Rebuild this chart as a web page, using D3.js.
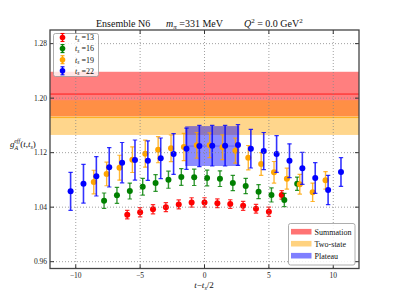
<!DOCTYPE html>
<html><head><meta charset="utf-8">
<script src="https://cdn.jsdelivr.net/npm/d3@7"></script>
<style>
html,body{margin:0;padding:0;background:#fff;}
svg text{font-family:"Liberation Serif","DejaVu Serif",serif;}
</style></head>
<body><svg id="c" width="399" height="299"></svg>
<script>
// ---- data ----
const x13 = [-6,-5,-4,-3,-2,-1,0,1,2,3,4,5,6];
const y13 = [1.029,1.0325,1.037,1.040,1.044,1.047,1.047,1.0457,1.0446,1.042,1.0377,1.0333,1.058];
const e13 = [0.0063,0.0068,0.0068,0.0066,0.0066,0.0068,0.0068,0.0064,0.0063,0.0066,0.0064,0.0068,0.0063];

const x16 = [-7.8,-6.8,-5.8,-4.8,-3.8,-2.8,-1.8,-0.8,0.2,1.2,2.2,3.2,4.2,5.2,6.2,7.2];
const y16 = [1.0495,1.0574,1.0637,1.070,1.0755,1.0803,1.0843,1.0838,1.0828,1.0818,1.0755,1.0711,1.0627,1.0579,1.0505,1.0744];
const e16 = [0.0113,0.0117,0.0117,0.0122,0.0122,0.0125,0.0122,0.012,0.0115,0.0115,0.0113,0.0113,0.0103,0.0103,0.0098,0.0098];

const x19 = [-8.6,-7.6,-6.6,-5.6,-4.6,-3.6,-2.6,-1.6,-0.6,0.4,1.4,2.4,3.4,4.4,5.4,6.4,7.4,8.4,9.4];
const y19 = [1.0769,1.0887,1.0979,1.1097,1.1185,1.1243,1.1264,1.1283,1.1308,1.1308,1.1279,1.1229,1.1126,1.1033,1.0912,1.0818,1.0736,1.0618,1.0794];
const e19 = [0.0173,0.0173,0.0183,0.0188,0.0198,0.0191,0.0195,0.0201,0.0188,0.0181,0.0181,0.0183,0.0179,0.0166,0.0158,0.0154,0.0144,0.0135,0.0128];

const x22 = [-10.4,-9.4,-8.4,-7.4,-6.4,-5.4,-4.4,-3.4,-2.4,-1.4,-0.4,0.6,1.6,2.6,3.6,4.6,5.6,6.6,7.6,8.6,9.6,10.6];
const y22 = [1.0633,1.0744,1.0853,1.0985,1.1053,1.1092,1.1082,1.1117,1.118,1.1258,1.1298,1.1302,1.1302,1.1312,1.1258,1.1224,1.118,1.1082,1.097,1.0828,1.0652,1.0916];
const e22 = [0.0279,0.0284,0.0289,0.0289,0.0296,0.0294,0.029,0.0298,0.030,0.0303,0.0303,0.0298,0.0298,0.0298,0.0283,0.0272,0.0269,0.0247,0.0235,0.0225,0.0216,0.021];

const seriesNames = ["13","16","19","22"];
const seriesColors = ["#ff0000","#008000","#ffa500","#0000ff"];

// bands: [centre, error]
const summation = [1.206, 0.0327];
const twoState = [1.1715, 0.0255];
const plateau = [1.1297, 0.0293];
const plateauRange = [-1.5, 2.7];
const bandNames = ["Summation","Two-state","Plateau"];
const bandColors = ["#ff0000","#ffa500","#0000ff"];
const bandAlpha = [0.5, 0.45, 0.45];

const xTicks = [-10,-5,0,5,10];
const yTicks = [0.96,1.04,1.12,1.20,1.28];
const xDomain = [-12,12];
const yDomain = [0.95,1.30];

// ---- drawing ----
const svg = d3.select("#c");
const L=50, R=359, T=30, B=268.5;
const x = d3.scaleLinear().domain(xDomain).range([L,R]);
const y = d3.scaleLinear().domain(yDomain).range([B,T]);

svg.append("defs").append("clipPath").attr("id","pc")
  .append("rect").attr("x",L).attr("y",T).attr("width",R-L).attr("height",B-T);
const plot = svg.append("g").attr("clip-path","url(#pc)");

function band(c, e, x0, x1, col, a, lineOp){
  plot.append("rect").attr("x",x(x0)).attr("width",x(x1)-x(x0))
    .attr("y",y(c+e)).attr("height",y(c-e)-y(c+e))
    .attr("fill",col).attr("fill-opacity",a);
  plot.append("line").attr("x1",x(x0)).attr("x2",x(x1)).attr("y1",y(c)).attr("y2",y(c))
    .attr("stroke",col).attr("stroke-width",1).attr("stroke-opacity",lineOp);
}
band(summation[0], summation[1], xDomain[0], xDomain[1], bandColors[0], bandAlpha[0], 0.8);
band(twoState[0], twoState[1], xDomain[0], xDomain[1], bandColors[1], bandAlpha[1], 0.8);
band(plateau[0], plateau[1], plateauRange[0], plateauRange[1], bandColors[2], bandAlpha[2], 0.3);

// grid
const grid = svg.append("g");
xTicks.forEach(t=>grid.append("line").attr("x1",x(t)).attr("x2",x(t)).attr("y1",T).attr("y2",B)
  .attr("stroke","#888").attr("stroke-width",0.8).attr("stroke-dasharray","1,2"));
yTicks.forEach(t=>grid.append("line").attr("x1",L).attr("x2",R).attr("y1",y(t)).attr("y2",y(t))
  .attr("stroke","#888").attr("stroke-width",0.8).attr("stroke-dasharray","1,2"));

// data
const allX=[x13,x16,x19,x22], allY=[y13,y16,y19,y22], allE=[e13,e16,e19,e22];
allX.forEach((xs,i)=>{
  const g = plot.append("g");
  const col = seriesColors[i];
  const sw = i===3 ? 1.6 : 1.4;
  xs.forEach((xv,j)=>{
    const yv=allY[i][j], ev=allE[i][j];
    const px=x(xv);
    g.append("line").attr("x1",px).attr("x2",px).attr("y1",y(yv+ev)).attr("y2",y(yv-ev))
      .attr("stroke",col).attr("stroke-width",sw).attr("stroke-opacity",0.8);
    [yv+ev,yv-ev].forEach(v=>g.append("line").attr("x1",px-2.2).attr("x2",px+2.2)
      .attr("y1",y(v)).attr("y2",y(v)).attr("stroke",col).attr("stroke-width",1.2).attr("stroke-opacity",0.8));
    g.append("circle").attr("cx",px).attr("cy",y(yv)).attr("r",3).attr("fill",col);
  });
});

// axes ticks (inward) & labels
const ax = svg.append("g");
xTicks.forEach(t=>{
  ax.append("line").attr("x1",x(t)).attr("x2",x(t)).attr("y1",B).attr("y2",B-4).attr("stroke","#333");
  ax.append("line").attr("x1",x(t)).attr("x2",x(t)).attr("y1",T).attr("y2",T+4).attr("stroke","#333");
  ax.append("text").attr("x",x(t)).attr("y",B+9).attr("text-anchor","middle")
    .attr("font-size",7.5).attr("fill","#222").text(t<0?"\u2212"+Math.abs(t):t);
});
yTicks.forEach(t=>{
  ax.append("line").attr("x1",L).attr("x2",L+4).attr("y1",y(t)).attr("y2",y(t)).attr("stroke","#333");
  ax.append("line").attr("x1",R).attr("x2",R-4).attr("y1",y(t)).attr("y2",y(t)).attr("stroke","#333");
  ax.append("text").attr("x",L-3).attr("y",y(t)+2.5).attr("text-anchor","end")
    .attr("font-size",7.5).attr("fill","#222").text(t.toFixed(2));
});
svg.append("rect").attr("x",L).attr("y",T).attr("width",R-L).attr("height",B-T)
  .attr("fill","none").attr("stroke","#444").attr("stroke-width",1.3);

// legend top-left
const lg = svg.append("g");
lg.append("rect").attr("x",53.5).attr("y",33.5).attr("width",45).attr("height",43).attr("rx",2)
  .attr("fill","#fff").attr("fill-opacity",0.8).attr("stroke","#999").attr("stroke-width",0.8);
seriesNames.forEach((n,i)=>{
  const cy = 37.5 + i*11.1;
  const col=seriesColors[i];
  lg.append("line").attr("x1",62.5).attr("x2",62.5).attr("y1",cy-4).attr("y2",cy+4).attr("stroke",col).attr("stroke-width",1.4);
  [cy-4,cy+4].forEach(v=>lg.append("line").attr("x1",60.5).attr("x2",64.5).attr("y1",v).attr("y2",v).attr("stroke",col).attr("stroke-width",1.1));
  lg.append("circle").attr("cx",62.5).attr("cy",cy).attr("r",2.8).attr("fill",col);
  const t = lg.append("text").attr("x",75).attr("y",cy+2.8).attr("font-size",8).attr("fill","#111");
  t.append("tspan").attr("font-style","italic").text("t");
  t.append("tspan").attr("font-size",5.5).attr("dy",1.5).attr("font-style","italic").text("s");
  t.append("tspan").attr("dy",-1.5).text(" =" + n);
});

// legend bottom-right
const lg2 = svg.append("g");
lg2.append("rect").attr("x",288.5).attr("y",223.5).attr("width",66.5).attr("height",41.5).attr("rx",2)
  .attr("fill","#fff").attr("fill-opacity",0.85).attr("stroke","#999").attr("stroke-width",0.8);
bandNames.forEach((n,i)=>{
  const cy = 231.7 + i*12;
  lg2.append("rect").attr("x",291).attr("y",cy-2.8).attr("width",20.5).attr("height",5.6)
    .attr("fill",bandColors[i]).attr("fill-opacity",bandAlpha[i]+0.05);
  lg2.append("text").attr("x",314.5).attr("y",cy+2.8).attr("font-size",8).attr("fill","#111").text(n);
});

// title
const tt = svg.append("text").attr("y",26.5).attr("font-size",10).attr("fill","#111");
tt.append("tspan").attr("x",96).text("Ensemble N6");
tt.append("tspan").attr("x",166).attr("font-style","italic").text("m");
tt.append("tspan").attr("font-size",7).attr("dy",2).attr("font-style","italic").text("\u03c0");
tt.append("tspan").attr("dy",-2).text(" =331 MeV");
tt.append("tspan").attr("x",244).attr("font-style","italic").text("Q");
tt.append("tspan").attr("font-size",7).attr("dy",-4).text("2");
tt.append("tspan").attr("dy",4).text(" = 0.0 GeV");
tt.append("tspan").attr("font-size",7).attr("dy",-4).text("2");

// y label
const yl = svg.append("text").attr("x",10).attr("y",147).attr("font-size",9).attr("fill","#111");
yl.append("tspan").attr("font-style","italic").text("g");
yl.append("tspan").attr("font-size",6).attr("dy",2.5).attr("font-style","italic").text("A");
yl.append("tspan").attr("font-size",6).attr("dx",-4).attr("dy",-7).attr("font-style","italic").text("eff");
yl.append("tspan").attr("dy",4.5).text("(");
yl.append("tspan").attr("font-style","italic").text("t");
yl.append("tspan").text(",");
yl.append("tspan").attr("font-style","italic").text("t");
yl.append("tspan").attr("font-size",6).attr("dy",2).attr("font-style","italic").text("s");
yl.append("tspan").attr("dy",-2).text(")");

// x label
const xl = svg.append("text").attr("x",204).attr("y",288).attr("text-anchor","middle").attr("font-size",9).attr("fill","#111");
xl.append("tspan").attr("font-style","italic").text("t");
xl.append("tspan").text("\u2212");
xl.append("tspan").attr("font-style","italic").text("t");
xl.append("tspan").attr("font-size",6).attr("dy",2).attr("font-style","italic").text("s");
xl.append("tspan").attr("dy",-2).text("/2");
</script></body></html>
